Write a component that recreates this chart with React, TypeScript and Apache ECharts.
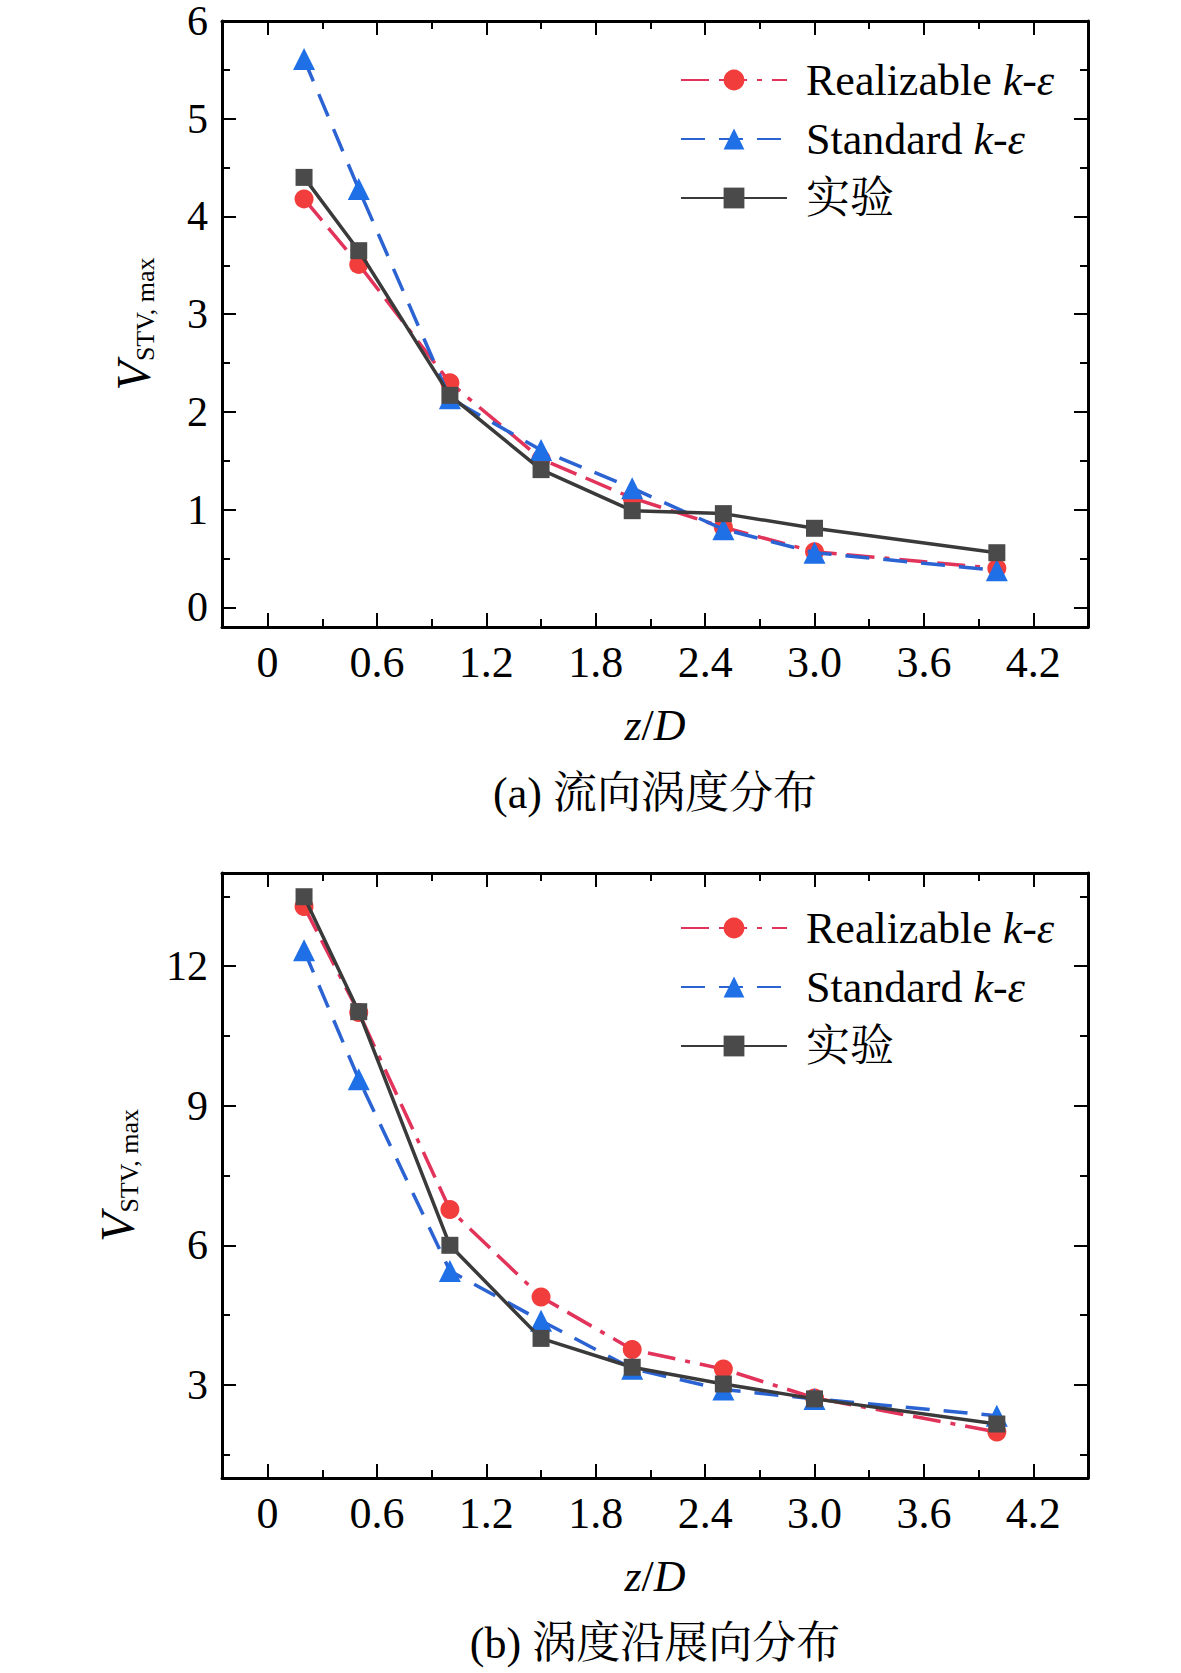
import React, { useEffect, useRef } from "react";
import * as echarts from "echarts";

// ---- data ----
const zD = [0.2, 0.5, 1.0, 1.5, 2.0, 2.5, 3.0, 4.0];
const realizableA = [4.18, 3.51, 2.3, 1.52, 1.12, 0.82, 0.57, 0.4];
const standardA = [5.61, 4.28, 2.14, 1.61, 1.22, 0.8, 0.56, 0.38];
const experimentA = [4.4, 3.65, 2.17, 1.41, 0.99, 0.96, 0.81, 0.56];
const realizableB = [13.28, 11.0, 6.77, 4.89, 3.76, 3.34, 2.72, 1.99];
const standardB = [12.34, 9.57, 5.45, 4.38, 3.35, 2.9, 2.7, 2.34];
const experimentB = [13.49, 11.02, 6.0, 4.0, 3.38, 3.02, 2.7, 2.16];

const xMajorTicks = [0, 0.6, 1.2, 1.8, 2.4, 3.0, 3.6, 4.2];
const xMinorTicks = [0.3, 0.9, 1.5, 2.1, 2.7, 3.3, 3.9];
const yMajorTicksA = [0, 1, 2, 3, 4, 5, 6];
const yMinorTicksA = [0.5, 1.5, 2.5, 3.5, 4.5, 5.5];
const yMajorTicksB = [3, 6, 9, 12];
const yMinorTicksB = [1.5, 4.5, 7.5, 10.5, 13.5];
const xRange = [-0.25, 4.5];
const yRangeA = [-0.2, 6];
const yRangeB = [1, 14];

const seriesNames = ["Realizable k-ε", "Standard k-ε", "实验"];
const captions = ["(a) 流向涡度分布", "(b) 涡度沿展向分布"];

const FONT = '"Liberation Serif", "Times New Roman", "Noto Serif CJK SC", "Noto Sans CJK SC", serif';

export default function App() {
  const ref = useRef<HTMLDivElement>(null);

  useEffect(() => {
    document.body.style.margin = "0";
    const chart = echarts.init(ref.current!, null, { renderer: "svg" });

    const grids = [
      { left: 222, top: 19, width: 866, height: 608 },
      { left: 222, top: 873, width: 866, height: 605 },
    ];

    const lineAxis = { show: true, onZero: false, lineStyle: { color: "#000", width: 3 } };
    const noLine = { show: false, onZero: false };
    const labelStyle = { fontSize: 44, color: "#000", fontFamily: FONT };

    const xAxes: any[] = [];
    const yAxes: any[] = [];
    const yCfg = [
      { range: yRangeA, major: yMajorTicksA, minor: yMinorTicksA, nameGap: 64 },
      { range: yRangeB, major: yMajorTicksB, minor: yMinorTicksB, nameGap: 80 },
    ];

    grids.forEach((_, g) => {
      const yc = yCfg[g];
      const xBase = { type: "value", gridIndex: g, min: xRange[0], max: xRange[1], splitLine: { show: false } };
      const yBase = { type: "value", gridIndex: g, min: yc.range[0], max: yc.range[1], splitLine: { show: false } };
      xAxes.push(
        {
          ...xBase,
          position: "bottom",
          axisLine: lineAxis,
          axisTick: { show: true, inside: true, length: 14, lineStyle: { color: "#000", width: 2 }, customValues: xMajorTicks },
          axisLabel: {
            show: true,
            customValues: xMajorTicks,
            formatter: (v: number) => (v === 0 ? "0" : v.toFixed(1)),
            margin: 13,
            ...labelStyle,
          },
          name: "{i|z}{n|/}{i|D}",
          nameLocation: "middle",
          nameGap: 76,
          nameTextStyle: {
            ...labelStyle,
            rich: {
              i: { fontSize: 44, fontStyle: "italic", fontFamily: FONT, color: "#000" },
              n: { fontSize: 44, fontFamily: FONT, color: "#000" },
            },
          },
        },
        {
          ...xBase,
          position: "bottom",
          axisLine: noLine,
          axisTick: { show: true, inside: true, length: 8, lineStyle: { color: "#000", width: 2 }, customValues: xMinorTicks },
          axisLabel: { show: false },
        },
        {
          ...xBase,
          position: "top",
          axisLine: lineAxis,
          axisTick: { show: true, inside: true, length: 14, lineStyle: { color: "#000", width: 2 }, customValues: xMajorTicks },
          axisLabel: { show: false },
        },
        {
          ...xBase,
          position: "top",
          axisLine: noLine,
          axisTick: { show: true, inside: true, length: 8, lineStyle: { color: "#000", width: 2 }, customValues: xMinorTicks },
          axisLabel: { show: false },
        }
      );
      yAxes.push(
        {
          ...yBase,
          position: "left",
          axisLine: lineAxis,
          axisTick: { show: true, inside: true, length: 14, lineStyle: { color: "#000", width: 2 }, customValues: yc.major },
          axisLabel: {
            show: true,
            customValues: yc.major,
            formatter: (v: number) => "{d|" + String(v) + "}",
            margin: 14,
            ...labelStyle,
            rich: { d: { fontSize: 42, lineHeight: 32, fontFamily: FONT, color: "#000" } },
          },
          name: "{v|V}{s|STV, max}",
          nameLocation: "middle",
          nameRotate: 90,
          nameGap: yc.nameGap,
          nameTextStyle: {
            ...labelStyle,
            rich: {
              v: { fontSize: 48, fontStyle: "italic", fontFamily: FONT, color: "#000", lineHeight: 50 },
              s: { fontSize: 26, fontFamily: FONT, color: "#000", lineHeight: 26, verticalAlign: "bottom" },
            },
          },
        },
        {
          ...yBase,
          position: "left",
          axisLine: noLine,
          axisTick: { show: true, inside: true, length: 8, lineStyle: { color: "#000", width: 2 }, customValues: yc.minor },
          axisLabel: { show: false },
        },
        {
          ...yBase,
          position: "right",
          axisLine: lineAxis,
          axisTick: { show: true, inside: true, length: 14, lineStyle: { color: "#000", width: 2 }, customValues: yc.major },
          axisLabel: { show: false },
        },
        {
          ...yBase,
          position: "right",
          axisLine: noLine,
          axisTick: { show: true, inside: true, length: 8, lineStyle: { color: "#000", width: 2 }, customValues: yc.minor },
          axisLabel: { show: false },
        }
      );
    });

    const styles = [
      { symbol: "circle", size: 19, line: "#e2335a", marker: "#f23d3d", dash: [28, 10, 28, 10, 5, 10], z: 2 },
      { symbol: "triangle", size: 22, line: "#2b63d3", marker: "#1f6fe6", dash: [24, 14], z: 3 },
      { symbol: "rect", size: 17, line: "#3a3a3a", marker: "#4a4a4a", dash: "solid", z: 4 },
    ];
    const dataSets = [
      [realizableA, standardA, experimentA],
      [realizableB, standardB, experimentB],
    ];

    const series: any[] = [];
    dataSets.forEach((sets, g) => {
      sets.forEach((vals, i) => {
        const st = styles[i];
        series.push({
          type: "line",
          name: seriesNames[i],
          xAxisIndex: g * 4,
          yAxisIndex: g * 4,
          data: zD.map((x, k) => [x, vals[k]]),
          symbol: st.symbol,
          symbolSize: st.size,
          showAllSymbol: true,
          lineStyle: { color: st.line, width: 3.5, type: st.dash },
          itemStyle: { color: st.marker },
          z: st.z,
        });
      });
    });

    const legendBase = {
      orient: "vertical",
      left: 680,
      itemWidth: 106,
      itemHeight: 26,
      itemGap: 13,
      padding: 0,
      data: seriesNames,
      formatter: (name: string) => {
        if (name.indexOf("k-ε") >= 0) {
          return "{g|}{n|" + name.replace(" k-ε", " ") + "}{i|k}{n|-}{i|ε}";
        }
        return "{g|}{n|" + name + "}";
      },
      textStyle: {
        fontSize: 44,
        lineHeight: 46,
        fontFamily: FONT,
        color: "#000",
        rich: {
          g: { width: 14, height: 10 },
          n: { fontSize: 44, lineHeight: 46, fontFamily: FONT, color: "#000" },
          i: { fontSize: 44, lineHeight: 46, fontStyle: "italic", fontFamily: FONT, color: "#000" },
        },
      },
    };

    chart.setOption({
      animation: false,
      backgroundColor: "#ffffff",
      grid: grids,
      xAxis: xAxes,
      yAxis: yAxes,
      legend: [
        { ...legendBase, top: 57 },
        { ...legendBase, top: 905 },
      ],
      series,
      graphic: captions.map((t, i) => ({
        type: "text",
        x: 655,
        y: i === 0 ? 793 : 1643,
        style: {
          text: t,
          fontSize: 44,
          fontFamily: FONT,
          fill: "#000",
          textAlign: "center",
          textVerticalAlign: "middle",
        },
      })),
    });

    return () => chart.dispose();
  }, []);

  return <div ref={ref} style={{ width: 1181, height: 1673 }} />;
}
